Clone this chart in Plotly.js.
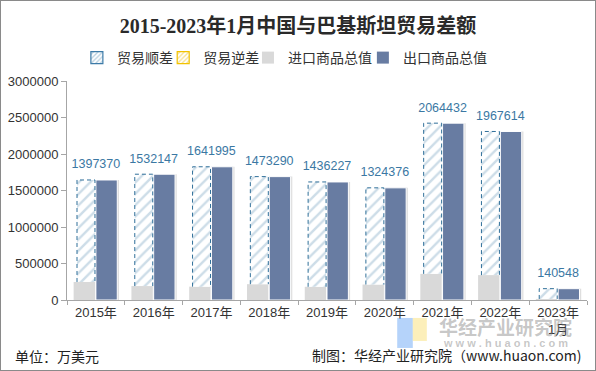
<!DOCTYPE html>
<html><head><meta charset="utf-8">
<script src="https://cdn.plot.ly/plotly-3.0.1.min.js"></script>
<style>html,body{margin:0;padding:0;background:#fff}#wrap{width:596px;height:371px;box-sizing:border-box;border:1px solid #8a8a8a;}#chart{width:594px;height:369px}</style>
</head><body><div id="wrap"><div id="chart"></div></div>
<script>
const categories = ['2015年','2016年','2017年','2018年','2019年','2020年','2021年','2022年','2023年<br>1月'];
const surplus = [1397370,1532147,1641995,1473290,1436227,1324376,2064432,1967614,140548];
const imports = [246800,191000,183000,217000,181000,212000,358000,341000,14500];
const exports = [1644170,1723147,1824995,1690290,1617227,1536376,2422432,2308614,155048];
const legendNames = ['贸易顺差','贸易逆差','进口商品总值','出口商品总值'];

const idx = categories.map((c,i)=>i);
const hatchL = -0.327, hatchR = -0.016;
const outX = [], outY = [];
idx.forEach(i=>{ outX.push(i+hatchL,i+hatchL,i+hatchR,i+hatchR,null); outY.push(imports[i],exports[i],exports[i],imports[i],null); });

const empty = categories.map(()=>null);
const traces = [
  {type:'bar', x:categories, y:imports, name:'进口商品总值', offset:-0.385, width:0.37,
   marker:{color:'#d9d9d9', line:{width:0}}, showlegend:false, hoverinfo:'skip'},
  {type:'bar', x:categories, y:surplus, base:imports, name:'贸易顺差', offset:hatchL, width:hatchR-hatchL,
   marker:{color:'#ffffff', line:{width:0}, pattern:{shape:'/', fgcolor:'#cddde8', bgcolor:'#ffffff', size:8, solidity:0.3}}, showlegend:false, hoverinfo:'skip'},
  {type:'bar', x:categories, y:exports, name:'shadow', offset:0.03, width:0.37,
   marker:{color:'rgba(0,0,0,0.13)', line:{width:0}}, showlegend:false, hoverinfo:'skip'},
  {type:'bar', x:categories, y:exports, name:'出口商品总值', offset:0.0, width:0.37,
   marker:{color:'#687ca2', line:{width:1, color:'#ffffff'}}, showlegend:false, hoverinfo:'skip'},
  {type:'scatter', mode:'lines', x:outX, y:outY, xaxis:'x2', line:{color:'#2f6f99', width:1, dash:'4px,3px'}, showlegend:false, hoverinfo:'skip', connectgaps:false},
  {type:'scatter', mode:'markers+text', x:idx, y:exports, xaxis:'x2', text:surplus.map(String), textposition:'top center',
   marker:{size:12, opacity:0}, textfont:{family:'Liberation Sans, Arial, sans-serif', size:12.5, color:'#3b78a3'}, showlegend:false, hoverinfo:'skip', cliponaxis:false},
  // legend entries
  {type:'bar', x:categories, y:empty, name:legendNames[0], legend:'legend',
   marker:{color:'#ffffff', line:{width:1.2, color:'#3d7ba8'}, pattern:{shape:'/', fgcolor:'#b8cfdf', bgcolor:'#ffffff', size:4, solidity:0.4}}},
  {type:'bar', x:categories, y:empty, name:legendNames[1], legend:'legend2',
   marker:{color:'#ffffff', line:{width:1.2, color:'#f2c200'}, pattern:{shape:'/', fgcolor:'#f7e08a', bgcolor:'#ffffff', size:4, solidity:0.4}}},
  {type:'bar', x:categories, y:empty, name:legendNames[2], legend:'legend3', marker:{color:'#d9d9d9'}},
  {type:'bar', x:categories, y:empty, name:legendNames[3], legend:'legend4', marker:{color:'#687ca2'}}
];

function leg(x){ return {orientation:'h', x:x, xanchor:'left', y:1.105, yanchor:'middle', itemwidth:30, bgcolor:'rgba(0,0,0,0)',
  font:{family:'Noto Sans CJK SC, sans-serif', size:14, color:'#333333'}, itemclick:false}; }

const layout = {
  width:594, height:369,
  margin:{l:66, r:8, t:80, b:70},
  paper_bgcolor:'#ffffff', plot_bgcolor:'#ffffff',
  barmode:'overlay',
  font:{family:'Liberation Sans, Arial, Noto Sans CJK SC, sans-serif', color:'#404040', size:13},
  title:{text:'2015-2023年1月中国与巴基斯坦贸易差额', x:0.5, xanchor:'center', y:0.933, yref:'container', yanchor:'middle',
    font:{family:'Liberation Serif, Noto Sans CJK SC, serif', size:20, color:'#2a2a2a', weight:'bold'}},
  legend:leg(0.019), legend2:leg(0.185), legend3:leg(0.348), legend4:leg(0.569),
  xaxis:{type:'category', tickson:'boundaries', ticks:'outside', ticklen:4, tickcolor:'#a6a6a6',
    showline:true, linecolor:'#a6a6a6', linewidth:1, showgrid:false, range:[-0.5,8.5],
    tickfont:{family:'Liberation Sans, Arial, Noto Sans CJK SC, sans-serif', size:13, color:'#333333'}},
  xaxis2:{overlaying:'x', range:[-0.5,8.5], visible:false},
  yaxis:{range:[0,3000000], dtick:500000, tickformat:'d', showgrid:false, zeroline:false,
    showline:true, linecolor:'#a6a6a6', linewidth:1, ticks:'outside', ticklen:5, tickcolor:'#a6a6a6',
    tickfont:{family:'Liberation Sans, Arial, sans-serif', size:13, color:'#333333'}},
  shapes:[
    {type:'rect', xref:'paper', yref:'paper', x0:0.635, x1:0.665, y0:-0.219, y1:-0.082, line:{width:0}, fillcolor:'rgba(120,175,245,0.55)'},
    {type:'rect', xref:'paper', yref:'paper', x0:0.665, x1:0.692, y0:-0.187, y1:-0.082, line:{width:0}, fillcolor:'rgba(250,225,130,0.55)'}
  ],
  annotations:[
    {text:'单位：万美元', xref:'paper', yref:'paper', x:-0.104, xanchor:'left', y:-0.256, yanchor:'middle', showarrow:false,
     font:{family:'Noto Sans CJK SC, sans-serif', size:14, color:'#222'}},
    {text:'制图：华经产业研究院（www.huaon.com)', xref:'paper', yref:'paper', x:0.994, xanchor:'right', y:-0.25, yanchor:'middle', showarrow:false,
     font:{family:'Noto Sans CJK SC, sans-serif', size:14, color:'#222'}},
    {text:'华经产业研究院', xref:'paper', yref:'paper', x:0.843, xanchor:'center', y:-0.123, yanchor:'middle', showarrow:false,
     font:{family:'Noto Sans CJK SC, sans-serif', size:19, color:'rgba(130,130,130,0.45)', weight:'bold'}},
    {text:'w w w . h u a o n . c o m', xref:'paper', yref:'paper', x:0.843, xanchor:'center', y:-0.196, yanchor:'middle', showarrow:false,
     font:{family:'Liberation Sans, sans-serif', size:11, color:'rgba(130,130,130,0.45)', weight:'bold'}}
  ]
};
Plotly.newPlot('chart', traces, layout, {displayModeBar:false, staticPlot:true});
</script></body></html>
